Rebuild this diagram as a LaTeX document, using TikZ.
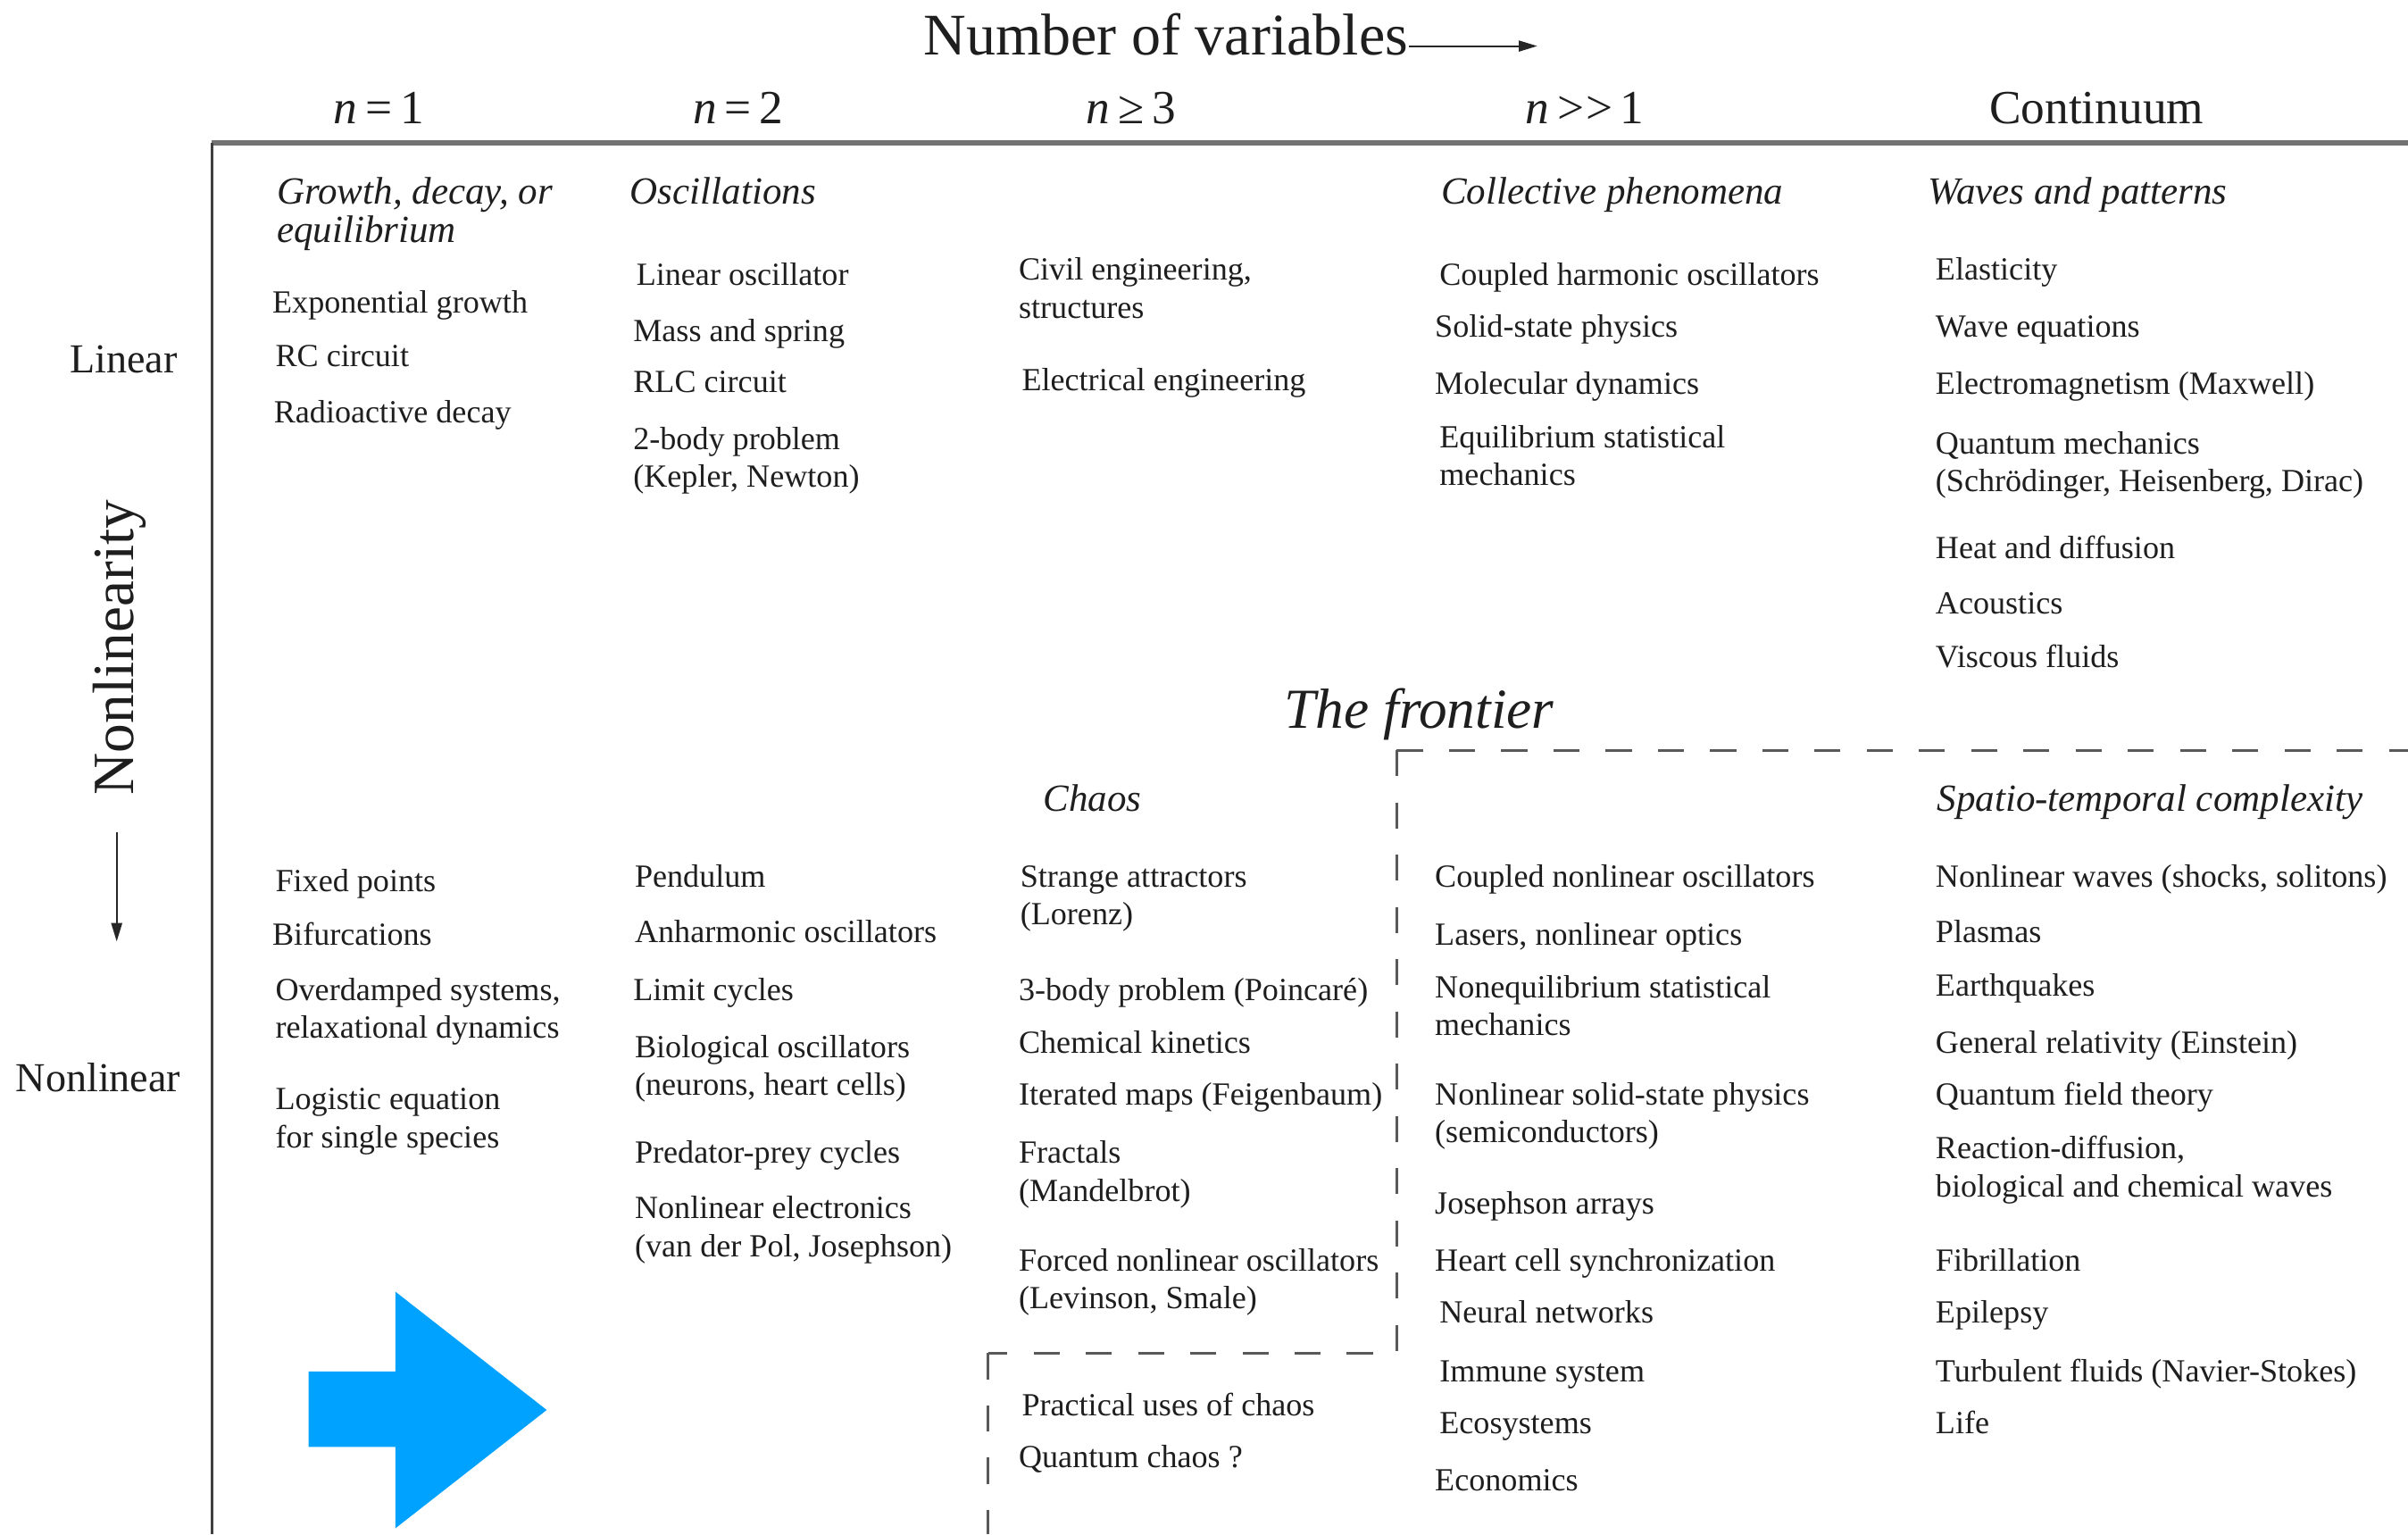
\documentclass[tikz,border=0pt]{standalone}
\usepackage{fontspec}
\setmainfont{Liberation Serif}
\usetikzlibrary{arrows.meta}
\definecolor{arrowblue}{RGB}{0,162,255}
\definecolor{txt}{RGB}{30,30,30}
\newcommand\bodyfnt{\fontsize{10.5}{12.3}\selectfont}
\newcommand\catfnt{\fontsize{12.5}{12.2}\selectfont\itshape}
\newcommand\twol[2]{\begin{tabular}[t]{@{}l@{}}#1\\#2\end{tabular}}
\begin{document}
\begin{tikzpicture}[x=0.5pt,y=-0.5pt,
  itm/.style={anchor=base west,inner sep=0pt,font=\bodyfnt,text=txt},
  cat/.style={anchor=base west,inner sep=0pt,font=\catfnt,text=txt},
  colhead/.style={anchor=base west,inner sep=0pt,font=\fontsize{15.5}{16}\selectfont,text=txt},
  axlab/.style={anchor=base west,inner sep=0pt,font=\fontsize{13.4}{14}\selectfont,text=txt},
  frame/.style={line width=0.9pt,draw=black!75},
  topline/.style={line width=1.6pt,draw=black!55},
  front/.style={line width=0.9pt,draw=black!65,dash pattern=on 8.5pt off 8.5pt},
  axarrow/.style={line width=0.6pt,draw=black!85,-{Triangle[length=6pt,width=3.5pt]}}]
\useasboundingbox (0,0) rectangle (1568,999);

% header
\node[anchor=base west,inner sep=0pt,font=\fontsize{19.2}{20}\selectfont,text=txt] (nv) at (601,36) {Number of variables};
\coordinate (nvend) at (1001,30);
\draw[axarrow] (nv.base east |- 0,30) -- (nvend);

\node[colhead] (h1) at (217,80.5) {\textit{n}\,=\,1};
\node[colhead] (h2) at (451,80.5) {\textit{n}\,=\,2};
\node[colhead] (h3) at (707,80.5) {\textit{n}\,≥\,3};
\node[colhead] (h4) at (993,80.5) {\textit{n}\,>\kern0.5pt>\,1};
\node[colhead] (h5) at (1295,80.5) {Continuum};

% frame
\coordinate (c0) at (138,93);
\coordinate (c1) at (1568,93);
\coordinate (c2) at (138,999);
\draw[topline] (c0) -- (c1);
\draw[frame] (c0) -- (c2);

% left axis
\node[axlab] (lin) at (45,242.5) {Linear};
\node[anchor=base west,inner sep=0pt,rotate=90,font=\fontsize{19}{20}\selectfont,text=txt] (nlty) at (87,518) {Nonlinearity};
\coordinate (da0) at (76,542);
\coordinate (da1) at (76,613);
\draw[axarrow] (da0) -- (da1);
\node[axlab] (nlin) at (10,711) {Nonlinear};

% category headings
\node[cat] (k1) at (180,133) {\twol{Growth, decay, or}{equilibrium}};
\node[cat] (k2) at (410,133) {Oscillations};
\node[cat] (k4) at (938,133) {Collective phenomena};
\node[cat] (k5) at (1255,133) {Waves and patterns};
\node[cat] (k3) at (679,528) {Chaos};
\node[cat] (k6) at (1261,528) {Spatio-temporal complexity};
\node[anchor=base west,inner sep=0pt,font=\fontsize{18.4}{19}\selectfont\itshape,text=txt] (fr) at (836,474) {The frontier};

% column 1
\node[itm] (a1) at (177,203.5) {Exponential growth};
\node[itm] (a2) at (179,238.5) {RC circuit};
\node[itm] (a3) at (178,275.5) {Radioactive decay};
\node[itm] (a4) at (179,580.5) {Fixed points};
\node[itm] (a5) at (177,615.5) {Bifurcations};
\node[itm] (a6) at (179,651.5) {\twol{Overdamped systems,}{relaxational dynamics}};
\node[itm] (a7) at (179,722.5) {\twol{Logistic equation}{for single species}};

% column 2
\node[itm] (b1) at (414,185.5) {Linear oscillator};
\node[itm] (b2) at (412,222.5) {Mass and spring};
\node[itm] (b3) at (412,255.5) {RLC circuit};
\node[itm] (b4) at (412,292.5) {\twol{2-body problem}{(Kepler, Newton)}};
\node[itm] (b5) at (413,577.5) {Pendulum};
\node[itm] (b6) at (413,613.5) {Anharmonic oscillators};
\node[itm] (b7) at (412,651.5) {Limit cycles};
\node[itm] (b8) at (413,688.5) {\twol{Biological oscillators}{(neurons, heart cells)}};
\node[itm] (b9) at (413,757.5) {Predator-prey cycles};
\node[itm] (b10) at (413,793.5) {\twol{Nonlinear electronics}{(van der Pol, Josephson)}};

% column 3
\node[itm] (c31) at (663,182.5) {\twol{Civil engineering,}{structures}};
\node[itm] (c32) at (665,254.5) {Electrical engineering};
\node[itm] (c33) at (664,577.5) {\twol{Strange attractors}{(Lorenz)}};
\node[itm] (c34) at (663,651.5) {3-body problem (Poincaré)};
\node[itm] (c35) at (663,685.5) {Chemical kinetics};
\node[itm] (c36) at (663,719.5) {Iterated maps (Feigenbaum)};
\node[itm] (c37) at (663,757.5) {\twol{Fractals}{(Mandelbrot)}};
\node[itm] (c38) at (663,827.5) {\twol{Forced nonlinear oscillators}{(Levinson, Smale)}};
\node[itm] (c39) at (665,922) {Practical uses of chaos};
\node[itm] (c310) at (663,955.5) {Quantum chaos ?};

% column 4
\node[itm] (d1) at (937,185.5) {Coupled harmonic oscillators};
\node[itm] (d2) at (934,219.5) {Solid-state physics};
\node[itm] (d3) at (934,256.5) {Molecular dynamics};
\node[itm] (d4) at (937,291.5) {\twol{Equilibrium statistical}{mechanics}};
\node[itm] (d5) at (934,577.5) {Coupled nonlinear oscillators};
\node[itm] (d6) at (934,615.5) {Lasers, nonlinear optics};
\node[itm] (d7) at (934,649.5) {\twol{Nonequilibrium statistical}{mechanics}};
\node[itm] (d8) at (934,719.5) {\twol{Nonlinear solid-state physics}{(semiconductors)}};
\node[itm] (d9) at (934,790.5) {Josephson arrays};
\node[itm] (d10) at (934,827.5) {Heart cell synchronization};
\node[itm] (d11) at (937,861.5) {Neural networks};
\node[itm] (d12) at (937,899.5) {Immune system};
\node[itm] (d13) at (937,933.5) {Ecosystems};
\node[itm] (d14) at (934,970.5) {Economics};

% column 5
\node[itm] (e1) at (1260,182.5) {Elasticity};
\node[itm] (e2) at (1260,219.5) {Wave equations};
\node[itm] (e3) at (1260,256.5) {Electromagnetism (Maxwell)};
\node[itm] (e4) at (1260,295.5) {\twol{Quantum mechanics}{(Schrödinger, Heisenberg, Dirac)}};
\node[itm] (e5) at (1260,363.5) {Heat and diffusion};
\node[itm] (e6) at (1260,399.5) {Acoustics};
\node[itm] (e7) at (1260,434.5) {Viscous fluids};
\node[itm] (e8) at (1260,577.5) {Nonlinear waves (shocks, solitons)};
\node[itm] (e9) at (1260,613.5) {Plasmas};
\node[itm] (e10) at (1260,648.5) {Earthquakes};
\node[itm] (e11) at (1260,685.5) {General relativity (Einstein)};
\node[itm] (e12) at (1260,719.5) {Quantum field theory};
\node[itm] (e13) at (1260,754.5) {\twol{Reaction-diffusion,}{biological and chemical waves}};
\node[itm] (e14) at (1260,827.5) {Fibrillation};
\node[itm] (e15) at (1260,861.5) {Epilepsy};
\node[itm] (e16) at (1260,899.5) {Turbulent fluids (Navier-Stokes)};
\node[itm] (e17) at (1260,933.5) {Life};

% frontier dashed boundary
\coordinate (f0) at (1568,488.5);
\coordinate (f1) at (909.5,488.5);
\coordinate (f2) at (909.5,881);
\coordinate (f3) at (643.5,881);
\coordinate (f4) at (643.5,999);
\draw[front] (f1) -- (f0);
\draw[front] (f1) -- (f2) -- (f3);
\draw[front] (f3) -- (f4);

% blue arrow
\fill[arrowblue] (201,893) -- (257.5,893) -- (257.5,841) -- (356,918)
  -- (257.5,995) -- (257.5,942) -- (201,942) -- cycle;
\end{tikzpicture}
\end{document}
